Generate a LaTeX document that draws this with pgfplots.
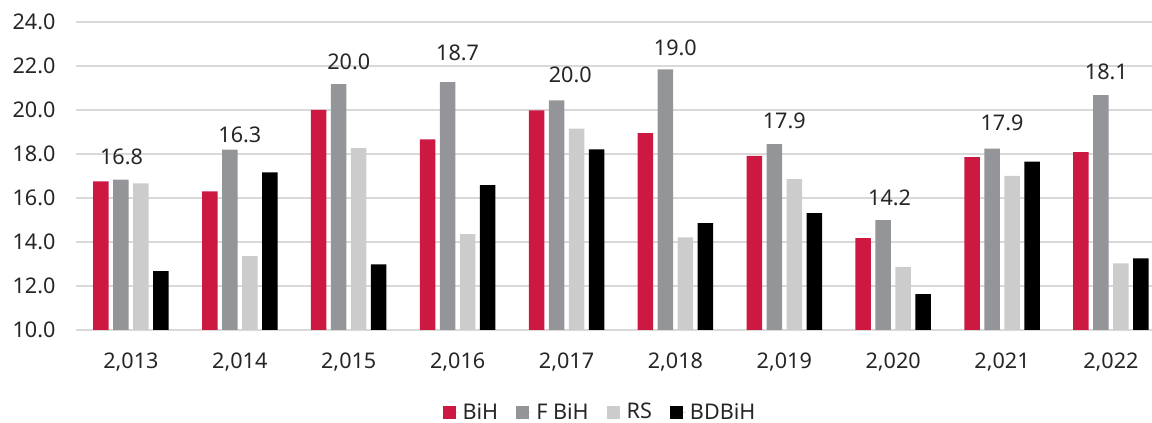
\documentclass[border=0pt]{standalone}
\usepackage{pgfplots}
\pgfplotsset{compat=1.18}
\usepackage{pgfplotstable}
\usepackage{fontspec}
\setmainfont{Noto Sans}
\definecolor{cBiH}{RGB}{205,24,66}
\definecolor{cFBiH}{RGB}{147,149,152}
\definecolor{cRS}{RGB}{204,204,204}
\definecolor{cBD}{RGB}{0,0,0}
\definecolor{gridc}{RGB}{217,217,217}
\pgfplotstableread{
x BiH FBiH RS BD
0 16.75 16.84 16.67 12.68
1 16.30 18.20 13.36 17.17
2 20.00 21.18 18.27 12.98
3 18.67 21.27 14.36 16.59
4 19.98 20.44 19.15 18.21
5 18.95 21.85 14.21 14.86
6 17.91 18.45 16.86 15.31
7 14.18 14.99 12.87 11.63
8 17.86 18.24 17.01 17.65
9 18.09 20.68 13.03 13.26
}\bars
\pgfplotstableread{
x y lab
-0.087 17.88 16.8
1 18.86 16.3
2 22.20 20.0
3 22.62 18.7
4.035 21.59 20.0
5 22.83 19.0
6 19.51 17.9
6.967 15.99 14.2
8 19.40 17.9
8.958 21.74 18.1
}\labs
\begin{document}
\begin{tikzpicture}
\begin{axis}[
  name=ax,
  scale only axis,
  width=537.75pt, height=154pt,
  xmin=-0.5, xmax=9.377,
  ymin=10, ymax=24,
  ytick={10,12,...,24},
  xtick={0,...,9},
  xticklabels={{2,013},{2,014},{2,015},{2,016},{2,017},{2,018},{2,019},{2,020},{2,021},{2,022}},
  axis lines*=left,
  x axis line style={draw=gridc, line width=0.6pt},
  y axis line style={draw=none},
  major tick length=0pt,
  ymajorgrids,
  grid style={draw=gridc, line width=0.6pt},
  /pgf/number format/.cd, fixed, fixed zerofill, precision=1, assume math mode=true,
  /pgfplots/.cd,
  tick label style={font=\fontsize{10.8pt}{13pt}\selectfont, text=black!85},
  yticklabel style={xshift=-7pt},
  xticklabel style={yshift=-8pt},
  legend style={draw=none, at={(0.4877,-0.268)}, anchor=center,
    font=\fontsize{10.8pt}{13pt}\selectfont, text=black!85,
    legend columns=-1, /tikz/every even column/.append style={column sep=7pt}},
  legend image code/.code={\fill[#1] (0pt,-3.3pt) rectangle (6.6pt,3.3pt); \path (0pt,0pt) -- (8pt,0pt);},
]
\addplot[ybar, bar width=7.75pt, bar shift=-15pt, fill=cBiH, draw=none] table[x=x,y=BiH]{\bars};
\addlegendentry{BiH}
\addplot[ybar, bar width=7.75pt, bar shift=-5pt, fill=cFBiH, draw=none] table[x=x,y=FBiH]{\bars};
\addlegendentry{F BiH}
\addplot[ybar, bar width=7.75pt, bar shift=5pt, fill=cRS, draw=none] table[x=x,y=RS]{\bars};
\addlegendentry{RS}
\addplot[ybar, bar width=7.75pt, bar shift=15pt, fill=cBD, draw=none] table[x=x,y=BD]{\bars};
\addlegendentry{BDBiH}
\addplot[draw=none, forget plot, nodes near coords, point meta=explicit symbolic,
  nodes near coords style={anchor=center, font=\fontsize{10.8pt}{13pt}\selectfont, text=black!85}]
  table[x=x,y=y,meta=lab]{\labs};
\end{axis}
\pgfresetboundingbox
\path (ax.south west) ++(-38.25pt,-46.5pt) rectangle ++(576pt,211.5pt);
\end{tikzpicture}
\end{document}
